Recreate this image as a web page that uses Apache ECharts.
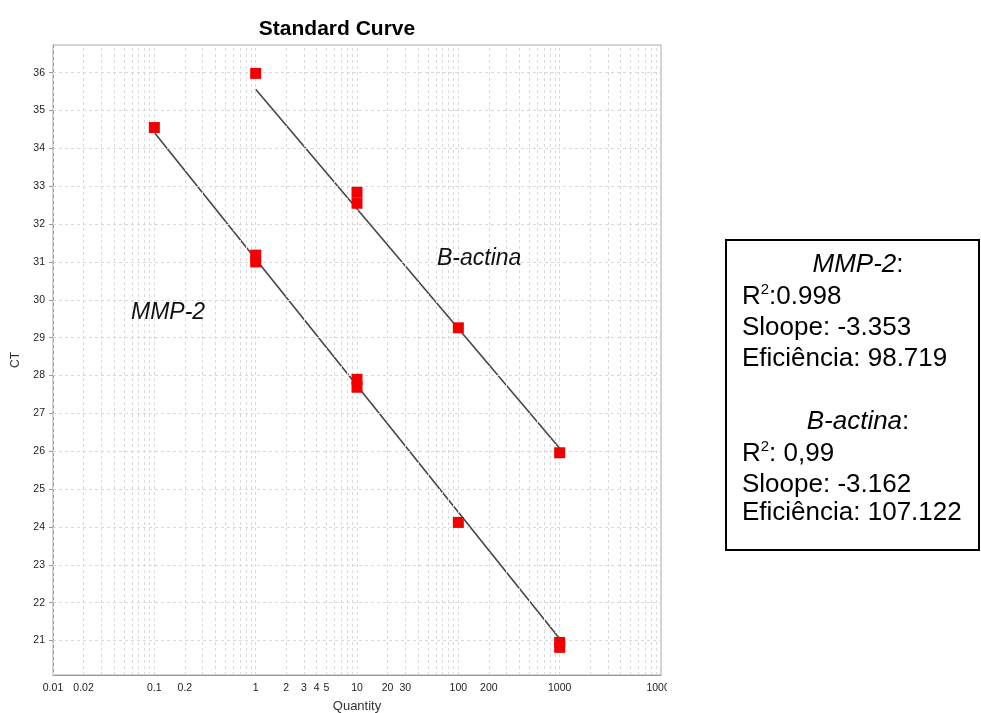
<!DOCTYPE html>
<html>
<head>
<meta charset="utf-8">
<script src="https://cdn.jsdelivr.net/npm/echarts@6/dist/echarts.min.js"></script>
<style>
html,body{margin:0;padding:0;background:#fff;}
#chart{width:981px;height:713px;}
</style>
</head>
<body>
<div id="chart"></div>
<script>
// ---- data ----
const mmpQty = [0.1, 1, 1, 10, 10, 100, 1000, 1000];
const mmpCt  = [34.55, 31.18, 31.0, 27.90, 27.69, 24.12, 20.95, 20.82];
const bactQty = [1, 10, 10, 100, 1000];
const bactCt  = [35.98, 32.84, 32.55, 29.26, 25.96];
const mmpFitQty = [0.1, 1000];
const mmpFitCt  = [34.42, 21.05];
const bactFitQty = [1, 1000];
const bactFitCt  = [35.56, 26.08];
const xTickValues = [0.01, 0.02, 0.1, 0.2, 1, 2, 3, 4, 5, 10, 20, 30, 100, 200, 1000, 10000];
const xTickLabels = ['0.01', '0.02', '0.1', '0.2', '1', '2', '3', '4', '5', '10', '20', '30', '100', '200', '1000', '10000'];
const yTickValues = [21, 22, 23, 24, 25, 26, 27, 28, 29, 30, 31, 32, 33, 34, 35, 36];
const xMin = 0.01, xMax = 10000, yMin = 20.09, yMax = 36.73;

// grid line positions (1..9 of each decade)
const xGridValues = [];
for (let e = -2; e < 4; e++) {
  for (let m = 1; m <= 9; m++) xGridValues.push(+(m * Math.pow(10, e)).toPrecision(6));
}

const FONT = '"Liberation Sans", Arial, sans-serif';
const zip = (a, b) => a.map((v, i) => [v, b[i]]);

const chart = echarts.init(document.getElementById('chart'), null, {renderer: 'canvas'});

const gridLineStyle = {type: [3, 3], color: '#d9d9d9', width: 1};
const BOX_FS = 26;
const BOX_X = 742;

const option = {
  animation: false,
  backgroundColor: '#fff',
  title: {
    text: 'Standard Curve',
    left: 332, top: 14, textAlign: 'center',
    textStyle: {fontFamily: FONT, fontSize: 21, fontWeight: 'bold', color: '#000'}
  },
  grid: {
    left: 53, right: 320, top: 45, bottom: 38,
    show: true, borderColor: '#aaa', borderWidth: 1,
    containLabel: false, outerBoundsMode: 'none'
  },
  xAxis: {
    type: 'log', logBase: 10, min: xMin, max: xMax,
    name: 'Quantity', nameLocation: 'middle', nameGap: 25,
    nameTextStyle: {fontFamily: FONT, fontSize: 13, color: '#333'},
    axisLine: {show: true, lineStyle: {color: '#999', width: 1}},
    axisTick: {show: false},
    splitLine: {show: false},
    minorTick: {show: false},
    axisLabel: {
      customValues: xTickValues,
      fontFamily: FONT, fontSize: 10.5, color: '#222', margin: 8,
      formatter: function (v) {
        const i = xTickValues.findIndex(t => Math.abs(Math.log10(t) - Math.log10(v)) < 1e-6);
        return i >= 0 ? xTickLabels[i] : '';
      }
    }
  },
  yAxis: {
    type: 'value', min: yMin, max: yMax,
    name: 'CT', nameLocation: 'middle', nameGap: 31, nameRotate: 90,
    nameTextStyle: {fontFamily: FONT, fontSize: 12, color: '#333'},
    axisLine: {show: true, lineStyle: {color: '#999', width: 1}},
    axisTick: {show: true, length: 4, lineStyle: {color: '#999'}, customValues: yTickValues},
    splitLine: {show: false},
    axisLabel: {
      customValues: yTickValues,
      fontFamily: FONT, fontSize: 10.5, color: '#222', margin: 8
    }
  },
  series: [
    {
      type: 'line', name: 'grid', data: [[xMin, yMin]], symbol: 'none', silent: true,
      lineStyle: {opacity: 0}, z: 1,
      markLine: {
        silent: true, symbol: ['none', 'none'], animation: false,
        label: {show: false}, lineStyle: gridLineStyle,
        emphasis: {disabled: true},
        data: xGridValues.map(v => ({xAxis: v})).concat(yTickValues.map(v => ({yAxis: v})))
      }
    },
    {
      type: 'line', name: 'MMP-2 fit', data: zip(mmpFitQty, mmpFitCt), symbol: 'none',
      lineStyle: {color: '#454545', width: 1.6}, z: 3, silent: true
    },
    {
      type: 'line', name: 'B-actina fit', data: zip(bactFitQty, bactFitCt), symbol: 'none',
      lineStyle: {color: '#454545', width: 1.6}, z: 3, silent: true
    },
    {
      type: 'scatter', name: 'MMP-2', data: zip(mmpQty, mmpCt), symbol: 'rect', symbolSize: 11,
      itemStyle: {color: '#f20000', opacity: 1}, z: 5
    },
    {
      type: 'scatter', name: 'B-actina', data: zip(bactQty, bactCt), symbol: 'rect', symbolSize: 11,
      itemStyle: {color: '#f20000', opacity: 1}, z: 5
    }
  ],
  graphic: [
    // clip of last x label, as in the reference
    {type: 'rect', left: 667, top: 679, shape: {width: 50, height: 18}, style: {fill: '#fff'}, z: 100},
    // annotations
    {type: 'text', left: 437, top: 247, z: 50,
      style: {text: 'B-actina', fontFamily: FONT, fontSize: 23, fontStyle: 'italic', fill: '#111'}},
    {type: 'text', left: 131, top: 301, z: 50,
      style: {text: 'MMP-2', fontFamily: FONT, fontSize: 23, fontStyle: 'italic', fill: '#111'}},
    // stats box
    {type: 'rect', left: 725, top: 239, z: 50,
      shape: {width: 253, height: 310}, style: {fill: '#fff', stroke: '#000', lineWidth: 2}},
    {type: 'text', z: 60, x: 858, y: 265,
      style: {
        text: '{i|MMP-2}{n|:}', align: 'center', verticalAlign: 'middle',
        rich: {i: {fontFamily: FONT, fontSize: BOX_FS, fontStyle: 'italic', fill: '#000'},
               n: {fontFamily: FONT, fontSize: BOX_FS, fill: '#000'}}
      }},
    {type: 'text', z: 60, x: BOX_X, y: 297,
      style: {
        text: '{n|R}{s|2}{n|:0.998}', align: 'left', verticalAlign: 'middle',
        rich: {n: {fontFamily: FONT, fontSize: BOX_FS, fill: '#000', lineHeight: 30},
               s: {fontFamily: FONT, fontSize: 15, fill: '#000', verticalAlign: 'top', lineHeight: 30, padding: [0, 0, 14, 0]}}
      }},
    {type: 'text', z: 60, x: BOX_X, y: 328,
      style: {text: 'Sloope: -3.353', align: 'left', verticalAlign: 'middle',
        fontFamily: FONT, fontSize: BOX_FS, fill: '#000'}},
    {type: 'text', z: 60, x: BOX_X, y: 359,
      style: {text: 'Eficiência: 98.719', align: 'left', verticalAlign: 'middle',
        fontFamily: FONT, fontSize: BOX_FS, fill: '#000'}},
    {type: 'text', z: 60, x: 858, y: 422,
      style: {
        text: '{i|B-actina}{n|:}', align: 'center', verticalAlign: 'middle',
        rich: {i: {fontFamily: FONT, fontSize: BOX_FS, fontStyle: 'italic', fill: '#000'},
               n: {fontFamily: FONT, fontSize: BOX_FS, fill: '#000'}}
      }},
    {type: 'text', z: 60, x: BOX_X, y: 454,
      style: {
        text: '{n|R}{s|2}{n|: 0,99}', align: 'left', verticalAlign: 'middle',
        rich: {n: {fontFamily: FONT, fontSize: BOX_FS, fill: '#000', lineHeight: 30},
               s: {fontFamily: FONT, fontSize: 15, fill: '#000', verticalAlign: 'top', lineHeight: 30, padding: [0, 0, 14, 0]}}
      }},
    {type: 'text', z: 60, x: BOX_X, y: 485,
      style: {text: 'Sloope: -3.162', align: 'left', verticalAlign: 'middle',
        fontFamily: FONT, fontSize: BOX_FS, fill: '#000'}},
    {type: 'text', z: 60, x: BOX_X, y: 513,
      style: {text: 'Eficiência: 107.122', align: 'left', verticalAlign: 'middle',
        fontFamily: FONT, fontSize: BOX_FS, fill: '#000'}}
  ]
};
chart.setOption(option);
</script>
</body>
</html>
